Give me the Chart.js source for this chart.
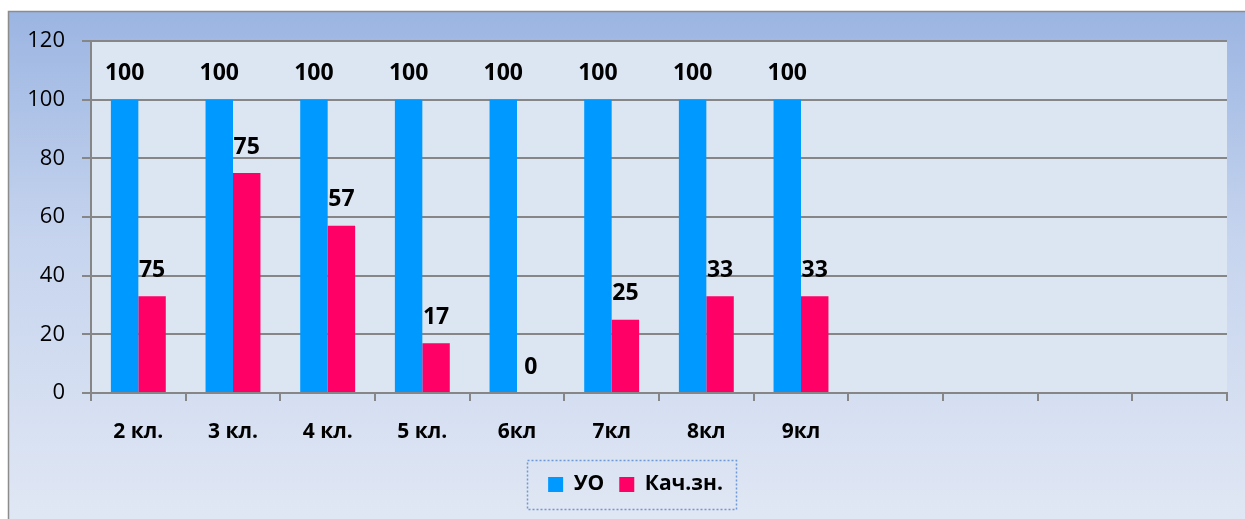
<!DOCTYPE html>
<html lang="ru">
<head>
  <meta charset="UTF-8">
  <title>УО и Кач.зн.</title>
  <script src="https://cdn.jsdelivr.net/npm/chart.js"></script>
  <style>
    html, body { margin: 0; padding: 0; background: #fff; }
    #wrap { width: 1245px; height: 519px; }
  </style>
</head>
<body>
<div id="wrap"><canvas id="chart" width="1245" height="519"></canvas></div>

<script>
  // data
  const categories = ['2 кл.', '3 кл.', '4 кл.', '5 кл.', '6кл', '7кл', '8кл', '9кл', '', '', '', ''];
  const uoValues = [100, 100, 100, 100, 100, 100, 100, 100];
  const qualityValues = [33, 75, 57, 17, 0, 25, 33, 33];
  // the labels printed above the bars (first pink one says 75 in the original)
  const uoLabels = ['100', '100', '100', '100', '100', '100', '100', '100'];
  const qualityLabels = ['75', '75', '57', '17', '0', '25', '33', '33'];
  const yTicks = [0, 20, 40, 60, 80, 100, 120];

  const FONT = "'Open Sans', 'DejaVu Sans', sans-serif";
  const GRID = '#868686';

  // background, frame and plot fill
  const backdrop = {
    id: 'backdrop',
    beforeDraw(chart) {
      const { ctx, width, height, chartArea: a } = chart;
      ctx.save();
      ctx.fillStyle = '#ffffff';
      ctx.fillRect(0, 0, width, height);
      const g = ctx.createLinearGradient(0, 11, 0, height);
      g.addColorStop(0, '#9bb5e2');
      g.addColorStop(0.45, '#c6d4ee');
      g.addColorStop(1, '#e0e7f4');
      ctx.fillStyle = g;
      ctx.fillRect(8, 11, width - 8, height - 11);
      ctx.strokeStyle = '#8c8c8c';
      ctx.lineWidth = 1.5;
      ctx.beginPath();
      ctx.moveTo(8.5, height);
      ctx.lineTo(8.5, 11.5);
      ctx.lineTo(width, 11.5);
      ctx.stroke();
      ctx.fillStyle = '#dce5f2';
      ctx.fillRect(a.left, a.top, a.right - a.left, a.bottom - a.top);
      ctx.restore();
    }
  };

  // value labels above the bars + dotted box round the legend
  const extras = {
    id: 'extras',
    afterUpdate(chart) {
      // the legend in the original sits a bit right of the canvas centre
      const lg = chart.legend;
      const dx = 22;
      lg.left += dx;
      lg.right += dx;
      (lg.legendHitBoxes || []).forEach(h => { h.left += dx; });
    },
    afterDatasetsDraw(chart) {
      const ctx = chart.ctx;
      const texts = [uoLabels, qualityLabels];
      ctx.save();
      ctx.font = 'bold 23px ' + FONT;
      ctx.fillStyle = '#000';
      ctx.textAlign = 'center';
      ctx.textBaseline = 'middle';
      chart.data.datasets.forEach((ds, i) => {
        chart.getDatasetMeta(i).data.forEach((el, j) => {
          ctx.fillText(texts[i][j], el.x, el.y - 26);
        });
      });
      ctx.restore();
    },
    afterDraw(chart) {
      const lg = chart.legend;
      const hb = lg.legendHitBoxes;
      if (!hb || !hb.length) return;
      const last = hb[hb.length - 1];
      const cy = hb[0].top + hb[0].height / 2;
      const x1 = hb[0].left - 21, x2 = last.left + last.width + 13;
      const ctx = chart.ctx;
      ctx.save();
      ctx.strokeStyle = '#6f98d6';
      ctx.lineWidth = 1.5;
      ctx.setLineDash([2, 2]);
      ctx.strokeRect(Math.round(x1) + 0.5, Math.round(cy - 25) + 0.5, Math.round(x2 - x1), 49);
      ctx.restore();
    }
  };

  new Chart(document.getElementById('chart'), {
    type: 'bar',
    data: {
      labels: categories,
      datasets: [
        { label: 'УО', data: uoValues, backgroundColor: '#0099ff' },
        { label: 'Кач.зн.', data: qualityValues, backgroundColor: '#ff0066' }
      ]
    },
    options: {
      responsive: false,
      animation: false,
      devicePixelRatio: 1,
      categoryPercentage: 0.58,
      barPercentage: 1.0,
      layout: { padding: { left: 0, right: 18, top: 41, bottom: 14 } },
      plugins: {
        tooltip: { enabled: false },
        legend: {
          position: 'bottom',
          labels: {
            boxWidth: 15,
            boxHeight: 15,
            padding: 15,
            color: '#000',
            font: { family: FONT, size: 21, weight: 'bold' }
          }
        }
      },
      scales: {
        x: {
          afterFit(scale) { scale.height = 66; },
          grid: { offset: true, drawOnChartArea: false, tickLength: 8, color: GRID, lineWidth: 2 },
          border: { display: true, color: GRID, width: 2 },
          ticks: { color: '#000', padding: 18, maxRotation: 0, autoSkip: false,
                   font: { family: FONT, size: 21, weight: 'bold' } }
        },
        y: {
          min: 0,
          max: 120,
          afterFit(scale) { scale.width = 91; },
          afterBuildTicks(scale) { scale.ticks = yTicks.map(v => ({ value: v })); },
          grid: { color: GRID, lineWidth: 2, tickLength: 9 },
          border: { display: true, color: GRID, width: 2 },
          ticks: { color: '#000', padding: 17, font: { family: FONT, size: 22 } }
        }
      }
    },
    plugins: [backdrop, extras]
  });
</script>
</body>
</html>
